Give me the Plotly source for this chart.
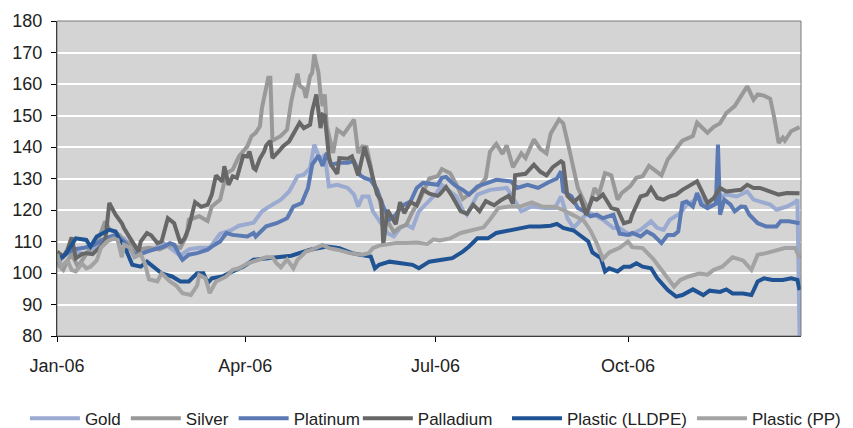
import pandas as pd
import plotly.graph_objects as go

# ---- data (day offsets from 2006-01-01, index values) ----
gold_day = [0, 4, 8, 13, 18, 23, 28, 32, 37, 42, 47, 51, 56, 59, 63, 68, 73, 78, 83, 87,
            94, 98, 103, 107, 111, 115, 118, 121, 123, 126, 128, 130, 134, 139, 142, 144, 146, 149, 151, 154,
            158, 161, 164, 167, 170, 173, 177, 181, 184, 188, 191, 194, 196, 201, 207, 215, 218, 222, 227, 233,
            238, 241, 244, 247, 252, 255, 258, 261, 266, 269, 274, 279, 284, 287, 290, 293, 298, 301, 304, 307,
            311, 314, 317, 320, 325, 330, 333, 336, 341, 344, 349, 353, 354, 355]
gold_val = [103.5, 106, 107, 106, 108, 111, 112, 111, 107, 106.5, 108, 109.5, 107, 105.5, 107.5, 108, 108, 112.5, 113.5, 115,
            116, 119.6, 121.7, 123.3, 125.9, 130.7, 131.2, 133.3, 140.8, 135.5, 137.6, 127.5, 128, 127, 124.9, 121.1, 124.3, 124.3, 119.6, 116.4,
            112.7, 111.6, 114.3, 115.3, 114.3, 119.6, 122.2, 125, 128, 126, 124.3, 120, 118.5, 124.9, 126.4, 127, 124, 119.6, 121.1, 120.6,
            120.6, 124.3, 117.4, 114.3, 118, 119, 118, 116.9, 114.3, 114.3, 112.1, 113.7, 116.4, 114.3, 113.7, 116.9, 119, 121.7, 122.7, 124.3,
            121.1, 121.7, 124.3, 124.9, 124.3, 125.9, 123.3, 122.7, 121.7, 120.1, 121.1, 122.5, 123.3, 80]

silver_day = [0, 3, 5, 7, 10, 12, 15, 17, 20, 23, 25, 28, 30, 32, 35, 37, 39, 44, 49, 54,
              59, 62, 63, 68, 72, 74, 78, 81, 84, 87, 91, 93, 95, 97, 98, 101, 102, 103, 105, 107,
              110, 112, 115, 116, 118, 119, 121, 122, 123, 125, 126, 127, 128, 129, 132, 134, 137, 140, 142, 144,
              146, 148, 150, 151, 153, 155, 158, 161, 164, 167, 170, 173, 177, 178, 182, 184, 188, 191, 194, 197,
              202, 205, 207, 210, 213, 215, 218, 222, 224, 228, 231, 234, 236, 240, 242, 245, 247, 249, 252, 254,
              257, 259, 262, 265, 268, 270, 274, 277, 280, 283, 287, 289, 292, 294, 299, 304, 306, 309, 311, 314,
              317, 320, 324, 328, 330, 333, 335, 338, 341, 343, 345, 347, 348, 351, 355]
silver_val = [103, 101, 104, 106, 102, 104, 107, 109, 111, 116.4, 114, 113, 112, 110, 109.5, 107, 107.5, 108, 107.5, 109,
              108, 112, 116.9, 118, 116.5, 121.1, 123.3, 131.7, 132.8, 137, 140.2, 143.4, 144.5, 146.6, 152.4, 162, 162, 142, 142.9, 143.5,
              145.5, 154.5, 163.3, 159.5, 158.5, 155.6, 162.5, 163.5, 169.4, 163.6, 156.7, 153, 156.7, 146.6, 138.1, 145.5, 144, 146.6, 148.7, 138.1,
              140.2, 140, 133.9, 129.1, 126.4, 121.1, 116.5, 113, 114.5, 115.3, 119.5, 122.5, 128, 130, 130.7, 133, 131.7, 128, 123.5, 124.9,
              127.5, 130.2, 138.5, 141, 137.8, 140.5, 133.6, 138, 136.5, 142.4, 139.4, 138, 144.2, 148.7, 147.5, 139, 133.5, 127, 122.7, 120,
              127, 124.8, 131.7, 131, 123.3, 125.4, 127.5, 130.2, 130.7, 134, 132, 131, 136, 137.6, 142, 143.5, 147.7, 145.8, 144.5, 146.4,
              147.5, 150.8, 153, 157.2, 159.3, 155, 156.7, 156.3, 155.3, 149, 141.3, 143, 142, 145, 146.3]

platinum_day = [0, 4, 8, 13, 18, 23, 28, 32, 37, 39, 43, 46, 51, 54, 56, 59, 60, 63, 67, 72,
                74, 78, 81, 84, 87, 91, 94, 95, 100, 105, 110, 113, 117, 120, 122, 125, 127, 129, 131, 135,
                139, 142, 145, 147, 150, 153, 156, 159, 162, 165, 169, 172, 175, 178, 182, 184, 186, 189, 191, 194,
                197, 201, 206, 210, 217, 220, 225, 230, 235, 239, 241, 242, 246, 249, 252, 255, 258, 261, 266, 269,
                273, 275, 279, 282, 285, 289, 292, 295, 297, 299, 301, 304, 306, 308, 311, 314, 315, 316, 317, 319,
                322, 324, 327, 329, 331, 335, 339, 344, 346, 350, 355]
platinum_val = [103, 106, 107.5, 108, 109, 111, 112, 110, 106, 105.8, 106.8, 107.4, 108.4, 109.5, 109, 105.2, 104.2, 105.8, 106.3, 107.4,
                108.4, 110, 112.7, 112.1, 111.8, 111.6, 112.7, 111.6, 114.8, 115.8, 117.4, 121.1, 122.2, 127, 134.4, 137.3, 134, 138.1, 134.4, 135,
                135, 135.5, 131, 130.2, 129.5, 126.5, 121, 117, 118.5, 121.3, 122.7, 127, 128.6, 128.3, 128, 130.2, 130.5, 128.6, 127.5, 126.4,
                124.9, 127.5, 128.5, 129.6, 129.1, 127, 128, 127, 128.8, 130, 132.3, 126, 124.3, 120.6, 119.6, 118, 118.5, 117.4, 118.5, 112.5,
                112.1, 112.7, 111.6, 113.2, 112.1, 109.5, 112.1, 112.1, 113.2, 122.2, 122.7, 121.1, 125.4, 121.7, 120.6, 121.7, 122, 140.8, 118.5, 123.3,
                121.7, 119.6, 121.1, 121, 118.5, 115.8, 114.8, 114.8, 116.4, 116.4, 115.8]

palladium_day = [0, 3, 5, 7, 9, 12, 14, 17, 20, 23, 25, 28, 31, 32, 35, 37, 39, 40, 43, 45,
                 48, 50, 53, 56, 59, 61, 63, 66, 69, 72, 74, 76, 79, 80, 82, 84, 86, 89, 91, 92,
                 94, 95, 97, 99, 100, 102, 103, 106, 108, 111, 114, 116, 118, 121, 122, 124, 126, 127, 128, 130,
                 131, 134, 135, 139, 141, 144, 146, 147, 150, 152, 153, 155, 156, 158, 160, 162, 164, 166, 169, 172,
                 175, 178, 182, 183, 186, 189, 193, 196, 199, 202, 205, 209, 212, 216, 218, 219, 224, 228, 231, 234,
                 237, 241, 242, 244, 247, 250, 253, 256, 258, 261, 265, 268, 271, 274, 275, 279, 282, 284, 287, 290,
                 293, 296, 299, 303, 306, 308, 311, 314, 317, 320, 323, 327, 330, 333, 336, 341, 345, 349, 355]
palladium_val = [106.8, 105.2, 107.4, 111.3, 104.7, 106, 106.3, 106, 107.9, 110, 122.2, 118.5, 115.8, 114.3, 111, 109, 106.8, 110, 112.7, 112,
                 109.5, 110, 117.4, 115.8, 109.5, 111, 114.3, 122.5, 121, 121.7, 124.9, 131, 129, 133.9, 128, 130.7, 130.2, 137.2, 137, 138.6,
                 133.3, 132.8, 136.3, 138.6, 140.5, 142, 136.5, 138.6, 140.2, 141.8, 145.5, 147.7, 146, 147.1, 151.4, 156.7, 146, 150.3, 150, 137,
                 134.4, 131.5, 136.5, 136.3, 137, 131, 137, 140, 133, 127.5, 125, 123, 109, 120, 117.5, 115.5, 122.5, 119, 122.5, 121.5,
                 126.5, 125.2, 124.5, 125, 127.3, 124.3, 119.6, 118.8, 121.7, 119.6, 122.8, 121.5, 123, 124.5, 122, 131, 131.5, 134.4, 132.2, 131,
                 133.6, 135.5, 135, 124.5, 122.5, 124.3, 118.5, 123.8, 123.3, 124.9, 120.6, 120.1, 115.8, 116.4, 118.5, 124.3, 124.9, 127, 123.8, 123.3,
                 124.3, 124.9, 126.4, 128, 129.1, 126.4, 122.2, 123.8, 127, 125.9, 126.2, 126.4, 128, 127, 127, 125.9, 124.9, 125.4, 125.3]

lldpe_day = [0, 4, 9, 14, 16, 19, 25, 28, 30, 32, 36, 40, 43, 46, 50, 55, 59, 63, 67, 70,
             72, 74, 79, 84, 89, 94, 100, 107, 112, 121, 129, 135, 141, 145, 150, 152, 154, 159, 164, 170,
             173, 178, 184, 189, 194, 197, 201, 206, 210, 217, 221, 226, 231, 236, 239, 242, 247, 250, 254, 256,
             260, 262, 264, 268, 271, 274, 277, 280, 284, 287, 292, 296, 299, 304, 309, 312, 317, 320, 323, 328,
             332, 335, 338, 342, 347, 351, 354, 355]
lldpe_val = [104.2, 105.8, 111, 110.5, 108.4, 111.6, 113.7, 113.2, 110.5, 108.9, 102.6, 102, 103.6, 102, 99.9, 98.9, 97.3, 97.3, 99.9, 99.9,
             96.8, 98.3, 98.9, 100.5, 102, 104.2, 104.7, 105.2, 105.5, 107.4, 108.4, 107.9, 106.3, 105.8, 105.2, 101.5, 102.6, 103.6, 103.1, 102.6,
             101.5, 103.6, 104.2, 104.7, 106.8, 108.4, 111, 111, 112.7, 113.7, 114.3, 114.8, 114.8, 115, 115.6, 114.3, 113.5, 112.1, 110, 106.5,
             104.7, 100.5, 101.5, 100.5, 102, 102, 103.1, 102, 101.5, 98.3, 94.6, 92.5, 93, 94.8, 93, 94.4, 94, 94.8, 93.5, 93.5,
             93, 97.3, 98.3, 97.8, 97.8, 98.3, 97.8, 94.6]

pp_day = [0, 2, 5, 7, 9, 12, 14, 16, 19, 21, 24, 27, 29, 31, 32, 35, 37, 40, 42, 44,
          48, 50, 54, 57, 60, 64, 67, 68, 71, 73, 76, 81, 84, 87, 91, 94, 97, 100, 103, 105,
          107, 110, 113, 115, 119, 122, 127, 130, 134, 137, 140, 143, 146, 149, 151, 154, 158, 162, 167, 172,
          177, 180, 183, 188, 193, 199, 204, 207, 211, 216, 222, 227, 232, 238, 242, 247, 252, 255, 258, 261,
          264, 269, 273, 275, 280, 285, 290, 295, 298, 302, 307, 311, 314, 318, 323, 328, 332, 335, 339, 345,
          348, 353, 355]
pp_val = [106, 102, 104, 101, 100.5, 103, 101.5, 102, 104, 108, 110, 111, 110.5, 105, 109, 108, 105, 106, 103, 98,
          97.3, 99.9, 97.3, 96, 93.6, 93, 96, 99.4, 98.3, 93.6, 97.3, 98.9, 101, 101.5, 103, 103.6, 104.2, 105, 105, 103,
          101.8, 104.3, 101.5, 104.2, 106.8, 107.4, 108.9, 107.9, 107.4, 106.8, 106.3, 106, 105.8, 106.3, 107.9, 108.7, 109, 109.5, 109.5, 109.7,
          109.2, 110.7, 110.3, 111, 112.7, 113.7, 114.5, 117, 120.6, 121.1, 121.2, 122.4, 121.1, 121, 120, 118.3, 116.5, 113.5, 109.5, 104.5,
          106.5, 108, 110, 108.2, 107.9, 104.5, 100.2, 95.7, 97.8, 98.9, 99.8, 99.5, 101, 102, 105, 104, 101, 105.8, 106.3, 107.5,
          107.9, 107.9, 104.7]

series_names = ["Gold", "Silver", "Platinum", "Palladium", "Plastic (LLDPE)", "Plastic (PP)"]
series_days = [gold_day, silver_day, platinum_day, palladium_day, lldpe_day, pp_day]
series_vals = [gold_val, silver_val, platinum_val, palladium_val, lldpe_val, pp_val]
series_colors = ["#9AAAD1", "#999999", "#5B79B3", "#676767", "#1F5393", "#A3A3A3"]
# legend block each series is listed in (legend split so entries keep their spacing)
series_legend = ["legend", "legend", "legend", "legend2", "legend3", "legend3"]

tick_dates = ["2006-01-01", "2006-04-01", "2006-07-01", "2006-10-01"]
tick_labels = ["Jan-06", "Apr-06", "Jul-06", "Oct-06"]

start = pd.Timestamp("2006-01-01")

fig = go.Figure()
for name, days, vals, col, lg in zip(series_names, series_days, series_vals, series_colors, series_legend):
    dates = start + pd.to_timedelta(days, unit="D")
    fig.add_trace(go.Scatter(x=dates, y=vals, name=name, mode="lines",
                             line=dict(color=col, width=4), legend=lg))

tick_font = dict(family="Liberation Sans, Arial, sans-serif", size=18, color="#222222")
legend_font = dict(family="Liberation Sans, Arial, sans-serif", size=17, color="#222222")


def legend_box(xpos):
    return dict(orientation="h", xref="container", yref="container",
                x=xpos, xanchor="left", y=0.022, yanchor="middle",
                font=legend_font, bgcolor="rgba(0,0,0,0)", itemwidth=50,
                tracegroupgap=0)


# the page body adds an 8px offset, so the figure is 8px smaller on each axis
fig.update_layout(
    width=845, height=420,
    margin=dict(l=49, r=52, t=13, b=92, autoexpand=False),
    paper_bgcolor="white", plot_bgcolor="#D4D4D4",
    font=tick_font,
    showlegend=True,
    legend=legend_box(0.020),
    legend2=legend_box(0.414),
    legend3=legend_box(0.5905),
)
fig.update_xaxes(
    type="date",
    range=[start, start + pd.Timedelta(days=355.7)],
    tickvals=tick_dates, ticktext=tick_labels,
    ticks="outside", ticklen=5, tickcolor="black",
    showline=True, linecolor="black", linewidth=1,
    showgrid=False, zeroline=False, ticklabelstandoff=8,
)
fig.update_yaxes(
    range=[80, 180], dtick=10, tick0=80,
    ticks="outside", ticklen=5, tickcolor="black",
    showline=True, linecolor="black", linewidth=1,
    showgrid=True, gridcolor="white", gridwidth=2, zeroline=False,
    ticklabelstandoff=5,
)
fig.add_shape(type="rect", xref="paper", yref="paper", x0=0, x1=1, y0=0, y1=1,
              line=dict(color="#7A7A7A", width=1), layer="above")

fig.write_html("out.html")
